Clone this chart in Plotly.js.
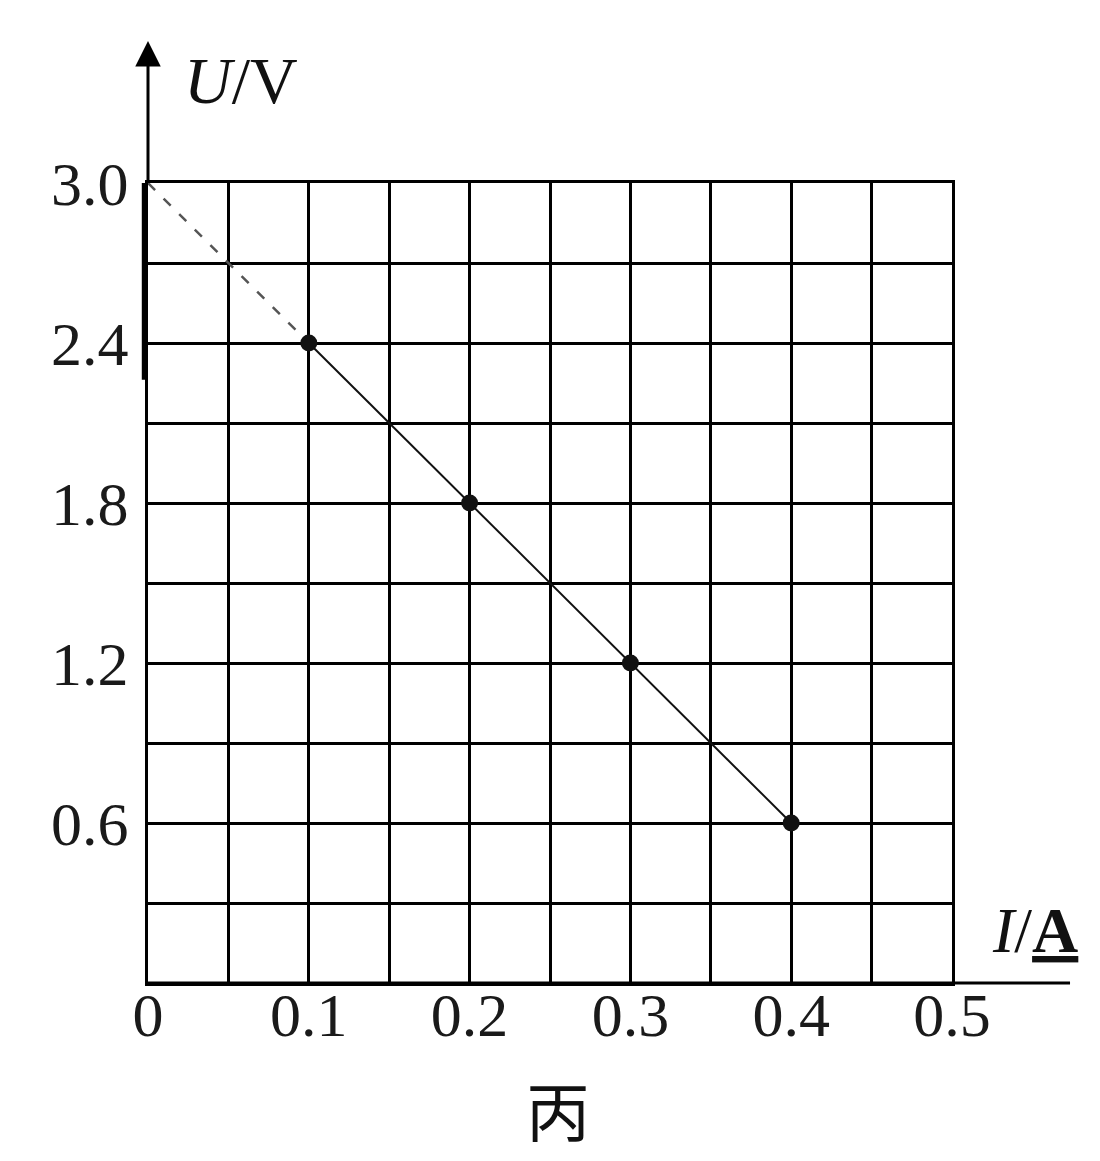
<!DOCTYPE html>
<html>
<head>
<meta charset="utf-8">
<script src="https://cdn.plot.ly/plotly-3.0.1.min.js"></script>
<style>html,body{margin:0;padding:0;background:#fff;}#chart{width:1100px;height:1161px;}</style>
</head>
<body>
<div id="chart"></div>
<script>
// Measured data (current I in A, voltage U in V)
const currentI = [0.1, 0.2, 0.3, 0.4];
const voltageU = [2.4, 1.8, 1.2, 0.6];
// Dashed extrapolation to the U axis
const dashI = [0, 0.1];
const dashU = [3.0, 2.4];
// Tick labels
const xTickVals = [0, 0.1, 0.2, 0.3, 0.4, 0.5];
const xTickText = ['0', '0.1', '0.2', '0.3', '0.4', '0.5'];
const yTickVals = [0.6, 1.2, 1.8, 2.4, 3.0];
const yTickText = ['0.6', '1.2', '1.8', '2.4', '3.0'];

const serif = 'Liberation Serif, Times New Roman, serif';
const tickFont = {family: serif, size: 62, color: '#1a1a1a'};

const traces = [
  {x: dashI, y: dashU, mode: 'lines', line: {color: '#555', width: 2.5, dash: '10px,12px'}, cliponaxis: false, hoverinfo: 'skip'},
  {x: currentI, y: voltageU, mode: 'lines+markers', line: {color: '#111', width: 2},
   marker: {color: '#111', size: 17}, cliponaxis: false}
];

const layout = {
  width: 1100, height: 1161,
  margin: {l: 148, r: 148, t: 183, b: 178},
  paper_bgcolor: '#fff', plot_bgcolor: '#fff',
  showlegend: false,
  xaxis: {
    range: [0, 0.5], tickvals: xTickVals, ticktext: xTickText,
    showgrid: true, gridcolor: '#000', gridwidth: 3,
    minor: {dtick: 0.05, tick0: 0, showgrid: true, gridcolor: '#000', gridwidth: 3},
    showline: true, linecolor: '#000', linewidth: 3, mirror: true,
    zeroline: false, ticks: '', tickfont: tickFont, ticklabelstandoff: -24, fixedrange: true
  },
  yaxis: {
    range: [0, 3], tickvals: yTickVals, ticktext: yTickText,
    showgrid: true, gridcolor: '#000', gridwidth: 3,
    minor: {dtick: 0.3, tick0: 0, showgrid: true, gridcolor: '#000', gridwidth: 3},
    showline: true, linecolor: '#000', linewidth: 3, mirror: true,
    zeroline: false, ticks: '', tickfont: tickFont, ticklabelstandoff: 4, fixedrange: true
  },
  shapes: [
    // x-axis extension
    {type: 'line', xref: 'paper', yref: 'paper', x0: 0, x1: 1.1468, y0: 0, y1: 0, line: {color: '#000', width: 3}},
    // thick segment on U axis
    {type: 'line', xref: 'paper', yref: 'paper', x0: -0.004, x1: -0.004, y0: 1, y1: 0.754, line: {color: '#000', width: 6}}
  ],
  annotations: [
    // U axis arrow
    {xref: 'paper', yref: 'paper', x: 0, y: 1.1775, ax: 0, ay: 142, showarrow: true,
     arrowhead: 2, arrowsize: 1.7, arrowwidth: 3, arrowcolor: '#000', text: ''},
    {xref: 'paper', yref: 'paper', x: (241 - 148) / 804, y: 1 + (183 - 80) / 800, showarrow: false,
     text: '<i>U</i>/V', font: {family: serif, size: 66, color: '#111'}, xanchor: 'center', yanchor: 'middle'},
    {xref: 'paper', yref: 'paper', x: (1035 - 148) / 804, y: (983 - 930) / 800, showarrow: false,
     text: '<i>I</i>/<b><u>A</u></b>', font: {family: serif, size: 64, color: '#111'}, xanchor: 'center', yanchor: 'middle'},
    {xref: 'paper', yref: 'paper', x: (558 - 148) / 804, y: (983 - 1108) / 800, showarrow: false,
     text: '丙', font: {family: 'Noto Sans CJK SC', size: 64, color: '#111'}, xanchor: 'center', yanchor: 'middle'}
  ]
};

Plotly.newPlot('chart', traces, layout, {staticPlot: true});
</script>
</body>
</html>
